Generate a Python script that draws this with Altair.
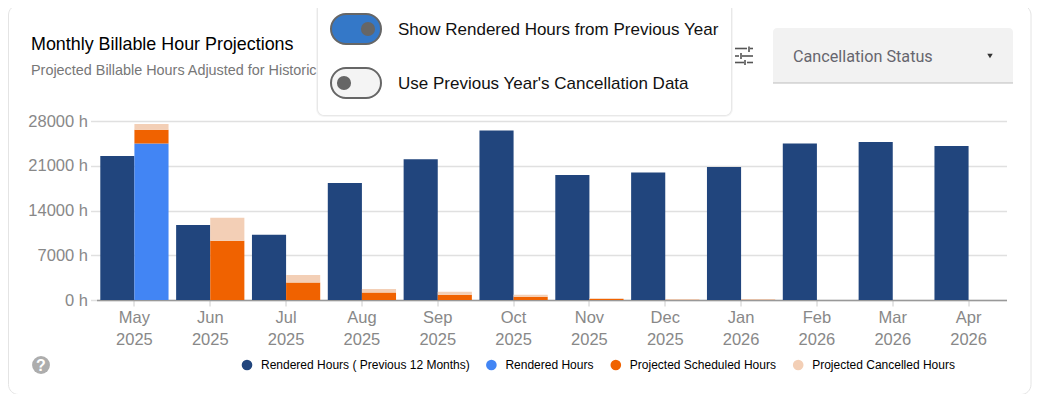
import altair as alt
import pandas as pd

months = ["May 2025","Jun 2025","Jul 2025","Aug 2025","Sep 2025","Oct 2025","Nov 2025","Dec 2025","Jan 2026","Feb 2026","Mar 2026","Apr 2026"]
previous = [22530,11750,10200,18300,22000,26500,19550,19950,20800,24500,24700,24100]
rendered = [24500,0,0,0,0,0,0,0,0,0,0,0]
scheduled = [2140,9260,2750,1190,830,520,170,40,30,0,0,0]
cancelled = [890,3590,1150,530,470,310,90,30,20,0,0,0]
series_names = ["Rendered Hours ( Previous 12 Months)","Rendered Hours","Projected Scheduled Hours","Projected Cancelled Hours"]
series_colors = ["#21457d","#4285f4","#f06200","#f3cfb6"]
y_ticks = [0,7000,14000,21000,28000]

rows = []
for i, m in enumerate(months):
    rows.append(dict(month=m, group="prev", series=series_names[0], idx=0, value=previous[i]))
    rows.append(dict(month=m, group="cur", series=series_names[1], idx=1, value=rendered[i]))
    rows.append(dict(month=m, group="cur", series=series_names[2], idx=2, value=scheduled[i]))
    rows.append(dict(month=m, group="cur", series=series_names[3], idx=3, value=cancelled[i]))
df = pd.DataFrame(rows)

OX, OY = 96.5, 121   # page position of the plot origin
one = pd.DataFrame({"a": [0]})
def X(v): return alt.value(v - OX)
def Y(v): return alt.value(v - OY)

def box(x0, y0, x1, y1, **kw):
    return alt.Chart(one).mark_rect(**kw).encode(x=X(x0), x2=X(x1), y=Y(y0), y2=Y(y1))
def label(x, y, s, **kw):
    kw.setdefault("align", "left"); kw.setdefault("baseline", "middle")
    return alt.Chart(one).mark_text(text=s, **kw).encode(x=X(x), y=Y(y))
def dot(x, y, size, color, shape="circle"):
    return alt.Chart(one).mark_point(filled=True, opacity=1, size=size, color=color, shape=shape).encode(x=X(x), y=Y(y))
def hline(x0, x1, y, color="#555555", w=1.6):
    return alt.Chart(one).mark_rule(color=color, strokeWidth=w).encode(x=X(x0), x2=X(x1), y=Y(y))
def vline(x, y0, y1, color="#555555", w=1.6):
    return alt.Chart(one).mark_rule(color=color, strokeWidth=w).encode(x=X(x), y=Y(y0), y2=Y(y1))

UI = "Liberation Sans"

bars = alt.Chart(df).mark_bar(clip=False).encode(
    x=alt.X("month:N", sort=months, scale=alt.Scale(paddingInner=0.1, paddingOuter=0.05),
            axis=alt.Axis(title=None, labelAngle=0, labelExpr="split(datum.label,' ')", labelFont=UI,
                          labelFontSize=16.5, labelColor="#888888", labelLineHeight=22, labelPadding=3,
                          tickColor="#cccccc", tickSize=6, domainColor="#999999", domainWidth=1.5,
                          labelBaseline="top")),
    xOffset=alt.XOffset("group:N", sort=["prev","cur"], scale=alt.Scale(domain=["prev","cur"], paddingInner=0, paddingOuter=0)),
    y=alt.Y("value:Q", stack="zero", scale=alt.Scale(domain=[0,28000], nice=False),
            axis=alt.Axis(title=None, values=y_ticks, labelExpr="datum.value + ' h'", labelFont=UI,
                          labelFontSize=16.5, labelColor="#888888", labelPadding=3, domain=False,
                          tickColor="#e0e0e0", tickSize=6, tickWidth=1.5,
                          gridColor="#e0e0e0", gridWidth=1.5)),
    color=alt.Color("series:N", scale=alt.Scale(domain=series_names, range=series_colors),
                    legend=alt.Legend(title=None, orient="none", legendX=241-OX, legendY=359-OY,
                                      direction="horizontal", columns=4, columnPadding=15.4,
                                      symbolType="circle", symbolSize=113, symbolOpacity=1, symbolStrokeWidth=0,
                                      labelFont=UI, labelFontSize=12, labelColor="#000000", labelOffset=8,
                                      labelLimit=300)),
    order=alt.Order("idx:Q"),
)

ui = [
    box(8.5, 5, 1031, 394.5, cornerRadius=10, fillOpacity=0, stroke="#e4e4e4", strokeWidth=1),
    label(31, 45, "Monthly Billable Hour Projections", font=UI, fontSize=17.9, color="#000000"),
    label(31, 71, "Projected Billable Hours Adjusted for Historic", font=UI, fontSize=14.4, color="#777777"),
    # pop-up panel
    box(316, 2, 733, 117, cornerRadius=8, color="#000000", opacity=0.04),
    box(317, 2, 732, 116, cornerRadius=7, color="#000000", opacity=0.05),
    box(318, 2, 731, 115, cornerRadius=6, color="#ffffff"),
    box(331, 14, 381, 44, cornerRadius=15, color="#3478c8", stroke="#666666", strokeWidth=2),
    dot(368, 29, 200, "#666666"),
    label(398, 30, "Show Rendered Hours from Previous Year", font=UI, fontSize=17, color="#111111"),
    box(331, 68, 381, 98, cornerRadius=15, color="#f4f4f4", stroke="#666666", strokeWidth=2),
    dot(344, 83, 200, "#666666"),
    label(398, 84, "Use Previous Year's Cancellation Data", font=UI, fontSize=17, color="#111111"),
    # tune icon
    hline(735, 747, 48.5), hline(750, 753, 48.5), vline(749, 46.5, 52),
    hline(735, 739, 56), hline(742, 753, 56), vline(741, 53, 59),
    hline(735, 744, 62.5), hline(747, 753, 62.5), vline(745, 60, 65),
    # drop-down
    box(773, 28, 1013, 83, cornerRadiusTopLeft=4, cornerRadiusTopRight=4, color="#f2f2f2"),
    hline(773, 1013, 83, "#bdbdbd", 1),
    label(793, 57, "Cancellation Status", font="Roboto", fontSize=16.2, color="#66666e"),
    dot(990, 56, 30, "#333333", "triangle-down"),
    # help button
    dot(41, 365, 320, "#adadad"),
    label(41, 365.5, "?", font=UI, fontSize=16, fontWeight="bold", color="#ffffff", align="center"),
]

chart = alt.layer(bars, *ui).resolve_scale(color="independent").properties(
    width=910, height=179,
    autosize=alt.AutoSizeParams(type="none"),
    padding={"left": OX-8, "top": OY-8, "right": 25.5, "bottom": 94},
).configure_view(stroke=None)

chart.save("out.html", embed_options={"renderer": "svg", "actions": False})
